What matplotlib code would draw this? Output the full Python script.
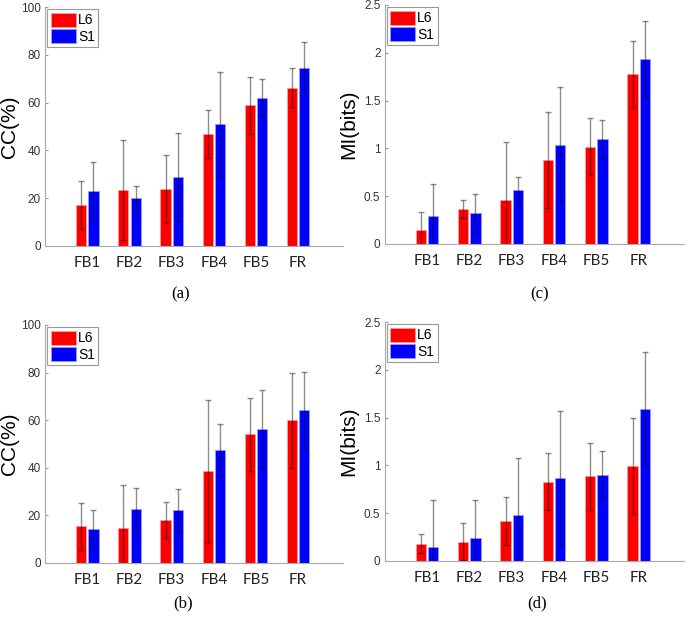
import numpy as np
import matplotlib
matplotlib.use("Agg")
import matplotlib.pyplot as plt

# ______________________________________________________________________________
# Data

groups = ["FB1", "FB2", "FB3", "FB4", "FB5", "FR"]

# (a) CC(%)
cc_a_l6 = [17.0, 23.3, 24.0, 47.0, 58.8, 66.3]
cc_a_l6_err = [10.0, 21.0, 14.2, 10.0, 12.0, 8.2]
cc_a_s1 = [23.0, 20.2, 28.8, 50.9, 62.0, 74.6]
cc_a_s1_err = [12.0, 5.0, 18.5, 22.0, 8.0, 10.7]

# (b) CC(%)
cc_b_l6 = [15.4, 14.7, 18.2, 38.5, 54.0, 60.0]
cc_b_l6_err = [10.0, 18.0, 7.6, 30.0, 15.2, 20.0]
cc_b_s1 = [14.4, 22.7, 22.2, 47.5, 56.1, 64.2]
cc_b_s1_err = [8.0, 9.0, 9.0, 11.0, 16.4, 16.0]

# (c) MI(bits)
mi_c_l6 = [0.142, 0.365, 0.462, 0.878, 1.017, 1.774]
mi_c_l6_err = [0.195, 0.095, 0.60, 0.50, 0.30, 0.35]
mi_c_s1 = [0.295, 0.323, 0.559, 1.038, 1.100, 1.937]
mi_c_s1_err = [0.33, 0.20, 0.14, 0.60, 0.20, 0.40]

# (d) MI(bits)
mi_d_l6 = [0.180, 0.201, 0.420, 0.830, 0.885, 0.993]
mi_d_l6_err = [0.10, 0.195, 0.25, 0.30, 0.35, 0.50]
mi_d_s1 = [0.142, 0.243, 0.479, 0.868, 0.903, 1.590]
mi_d_s1_err = [0.50, 0.40, 0.60, 0.70, 0.25, 0.60]

# ______________________________________________________________________________
# Figure

fig = plt.figure(figsize=(6.85, 6.19), dpi=100)

x = np.arange(1, len(groups) + 1)
w = 0.24


def panel(rect, l6, l6_err, s1, s1_err, ymax, yticks, yticklabels, ylabel, tag, tagpos):
    ax = fig.add_axes(rect)
    ekw = dict(ecolor=(0, 0, 0, 0.45), elinewidth=1.0, capsize=2.5, capthick=1.0)
    ax.bar(x - 0.145, l6, w, color="#ff0000", edgecolor="#ff9a9a", linewidth=0.6,
           yerr=l6_err, error_kw=ekw, label="L6")
    ax.bar(x + 0.145, s1, w, color="#0000ff", edgecolor="#9a9aff", linewidth=0.6,
           yerr=s1_err, error_kw=ekw, label="S1")
    ax.set_xlim(0, 7.07)
    ax.set_ylim(0, ymax)
    ax.set_xticks(x)
    ax.set_xticklabels(groups, fontname="Lato", fontsize=11, color="#222222")
    ax.set_yticks(yticks)
    ax.set_yticklabels(yticklabels, fontname="Liberation Sans", fontsize=8.5, color="#333333")
    ax.tick_params(axis="x", length=0, pad=7)
    ax.tick_params(axis="y", length=2, direction="in", color="#999999", pad=3)
    for s in ["top", "right"]:
        ax.spines[s].set_visible(False)
    for s in ["left", "bottom"]:
        ax.spines[s].set_color("#aaaaaa")
        ax.spines[s].set_linewidth(0.8)
    ax.set_ylabel(ylabel, fontname="Liberation Sans", fontsize=15)
    ax.yaxis.set_label_coords(-0.088, 0.5)
    leg = ax.legend(loc="upper left", fancybox=False, edgecolor="#999999",
                    prop={"family": "Liberation Sans", "size": 10},
                    handlelength=1.8, handleheight=1.2, handletextpad=0.15,
                    borderpad=0.25, labelspacing=0.1, borderaxespad=0.15,
                    framealpha=1)
    leg.get_frame().set_linewidth(0.8)
    fig.text(tagpos[0], tagpos[1], tag, fontname="Liberation Serif", fontsize=12,
             ha="center", va="center")
    return ax


cc_ticks = [0, 20, 40, 60, 80, 100]
cc_labels = ["0", "20", "40", "60", "80", "100"]
mi_ticks = [0, 0.5, 1, 1.5, 2, 2.5]
mi_labels = ["0", "0.5", "1", "1.5", "2", "2.5"]

panel([0.066, 0.6026, 0.435, 0.386], cc_a_l6, cc_a_l6_err, cc_a_s1, cc_a_s1_err,
      100, cc_ticks, cc_labels, "CC(%)", "(a)", (181 / 685, 1 - 294 / 619))
panel([0.5615, 0.606, 0.437, 0.386], mi_c_l6, mi_c_l6_err, mi_c_s1, mi_c_s1_err,
      2.5, mi_ticks, mi_labels, "MI(bits)", "(c)", (540 / 685, 1 - 294 / 619))
panel([0.066, 0.0905, 0.435, 0.3845], cc_b_l6, cc_b_l6_err, cc_b_s1, cc_b_s1_err,
      100, cc_ticks, cc_labels, "CC(%)", "(b)", (183 / 685, 1 - 603 / 619))
panel([0.5615, 0.0937, 0.437, 0.386], mi_d_l6, mi_d_l6_err, mi_d_s1, mi_d_s1_err,
      2.5, mi_ticks, mi_labels, "MI(bits)", "(d)", (537 / 685, 1 - 603 / 619))

fig.savefig("out.png", dpi=100, facecolor="w")
